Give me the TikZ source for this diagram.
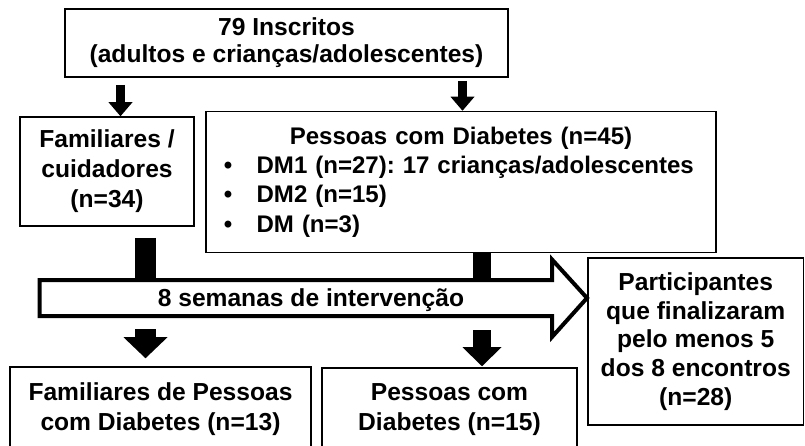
\documentclass[tikz,border=0pt]{standalone}
\usepackage{fontspec}
\setmainfont{Liberation Sans}
\usepackage{tikz}
\usetikzlibrary{arrows.meta, positioning, calc}
\frenchspacing
\tikzstyle{infobox} = [rectangle, draw=black, line width=1.3pt, text centered, align=center,
  inner sep=0pt, font=\bfseries\fontsize{21}{25.5}\selectfont]
\tikzstyle{listbox} = [rectangle, draw=black, line width=1.3pt, inner xsep=0.15cm, inner ysep=0pt,
  font=\bfseries\fontsize{20.5}{25}\selectfont]
\tikzstyle{smallarrow} = [line width=0.27cm, -{Triangle[length=0.42cm, width=0.72cm, line width=0pt]}]
\tikzstyle{joinbar} = [line width=0.6cm]
\tikzstyle{bigarrow} = [draw=black, line width=0.12cm, line join=miter, fill=white]
\tikzstyle{textlabel} = [font=\bfseries\fontsize{21}{25.5}\selectfont]

\begin{document}
\begin{tikzpicture}[x=0.03cm, y=-0.03cm]
  \useasboundingbox (0,0) rectangle (805,446);

  \node (top) [infobox, minimum width=13.29cm, minimum height=2.04cm,
    font=\bfseries\fontsize{21}{23}\selectfont] at (286.5,43)
    {79 Inscritos\\(adultos e crianças/adolescentes)};
  \node (fam) [infobox, minimum width=5.22cm, minimum height=3.27cm] at (107,171.5)
    {Familiares /\\cuidadores\\(n=34)};
  \node (pdm) [listbox, minimum width=15.3cm, minimum height=4.23cm, text width=15.0cm] at (461,182)
    {\centering Pessoas com Diabetes (n=45)\par
     \raggedright
     \hspace*{0.39cm}\makebox[0.98cm][l]{\textbullet}DM1 (n=27): 17 crianças/adolescentes\\
     \hspace*{0.39cm}\makebox[0.98cm][l]{\textbullet}DM2 (n=15)\\
     \hspace*{0.39cm}\makebox[0.98cm][l]{\textbullet}DM (n=3)\par};
  \node (part) [infobox, minimum width=6.465cm, minimum height=5.01cm,
    font=\bfseries\fontsize{21}{24.5}\selectfont] at (695.75,341.5)
    {Participantes\\que finalizaram\\pelo menos 5\\dos 8 encontros\\(n=28)};
  \node (fpd) [infobox, minimum width=9.03cm, minimum height=2.55cm] at (160.5,409.5)
    {Familiares de Pessoas\\com Diabetes (n=13)};
  \node (pcd) [infobox, minimum width=7.65cm, minimum height=2.52cm] at (449.5,410)
    {Pessoas com\\Diabetes (n=15)};

  % x positions of the connectors
  \coordinate (xa) at (120.5,0);
  \coordinate (xb) at (462.5,0);
  \coordinate (lbar) at (145.5,280);
  \coordinate (rbar) at (482,280);
  \coordinate (lout) at (145.5,329);
  \coordinate (rout) at (482,330);

  \draw[smallarrow, shorten <=0.21cm] (top.south -| xa) -- (fam.north -| xa);
  \draw[smallarrow, shorten <=0.09cm] (top.south -| xb) -- (pdm.north -| xb);

  \draw[joinbar, line width=0.63cm, shorten <=0.33cm] (fam.south -| lbar) -- (lbar);
  \draw[joinbar, line width=0.54cm] (pdm.south -| rbar) -- (rbar);

  % intervention arrow
  \draw[bigarrow] (39.5,280) -- (552,280) -- (552,259.5) -- (587,298)
    -- (552,337) -- (552,316) -- (39.5,316) -- cycle;
  \node (interv) [textlabel] at (311,300) {8 semanas de intervenção};

  \draw[line width=0.63cm, -{Triangle[length=0.63cm, width=1.32cm, line width=0pt]},
    shorten >=0.24cm] (lout) -- (fpd.north -| lout);
  \draw[line width=0.54cm, -{Triangle[length=0.57cm, width=1.17cm, line width=0pt]},
    shorten >=0.03cm] (rout) -- (pcd.north -| rout);
\end{tikzpicture}
\end{document}
